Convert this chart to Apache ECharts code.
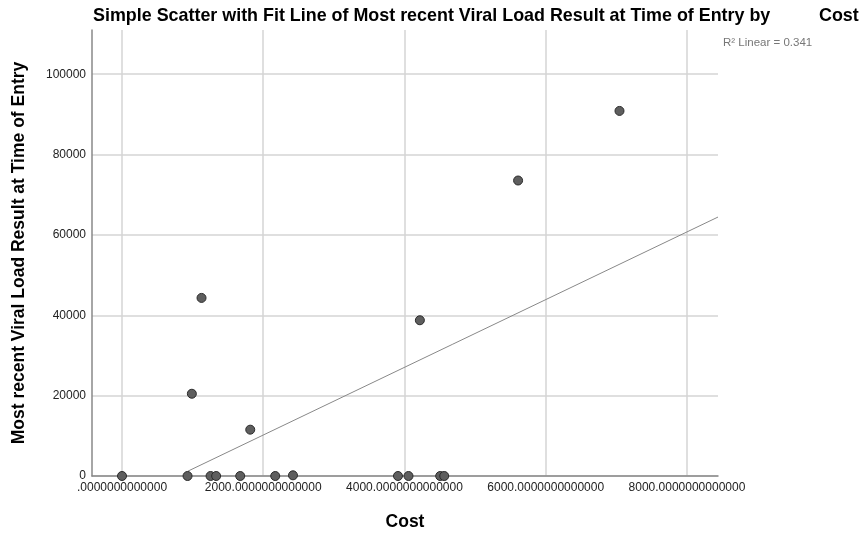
<!DOCTYPE html>
<html>
<head>
<meta charset="utf-8">
<script src="https://cdn.jsdelivr.net/npm/echarts@6/dist/echarts.min.js"></script>
<style>
  html, body { margin: 0; padding: 0; background: #fff; }
  #scatter { width: 868px; height: 536px; }
</style>
</head>
<body>
<div id="scatter"></div>
<script>
var cost = [0, 928, 989, 1126, 1254, 1333, 1674, 1816, 2170, 2421, 3908, 4057, 4218, 4506, 4563, 5609, 7045];
var viralLoad = [0, 0, 20470, 44320, 0, 0, 0, 11530, 0, 170, 0, 0, 38760, 0, 0, 73540, 90860];
var fitX = [928, 8440];
var fitY = [1160, 64450];
var xTicks = [0, 2000, 4000, 6000, 8000];
var yTicks = [0, 20000, 40000, 60000, 80000, 100000];

var points = cost.map(function (c, i) { return [c, viralLoad[i]]; });
var fitLine = fitX.map(function (x, i) { return [x, fitY[i]]; });

var boldFont = 'bold 17.9px Liberation Sans, Arial';

var chartDom = document.getElementById('scatter');
var myChart = echarts.init(chartDom);
var option;
option = {
  animation: false,
  graphic: [
    {
      type: 'text',
      left: 93,
      top: 7,
      style: {
        text: 'Simple Scatter with Fit Line of Most recent Viral Load Result at Time of Entry by',
        fill: '#000',
        font: boldFont
      }
    },
    {
      type: 'text',
      left: 819,
      top: 7,
      style: { text: 'Cost', fill: '#000', font: boldFont }
    },
    {
      type: 'text',
      left: 723,
      top: 37,
      style: {
        text: 'R² Linear = 0.341',
        fill: '#777',
        font: '11.5px Liberation Sans, Arial'
      }
    }
  ],
  grid: {
    left: 92,
    right: 150,
    top: 30,
    bottom: 59
  },
  xAxis: {
    type: 'value',
    min: -425,
    max: 8440,
    name: 'Cost',
    nameLocation: 'middle',
    nameGap: 37,
    nameTextStyle: {
      fontFamily: 'Liberation Sans, Arial',
      fontSize: 17.5,
      fontWeight: 'bold',
      color: '#000'
    },
    axisLine: { onZero: false, lineStyle: { color: '#888', width: 1.5 } },
    axisTick: { show: false, customValues: xTicks },
    axisLabel: {
      customValues: xTicks,
      margin: 6,
      fontFamily: 'Liberation Sans, Arial',
      fontSize: 12,
      color: '#222',
      formatter: function (v) {
        return v === 0 ? '.0000000000000' : v + '.0000000000000';
      }
    },
    splitLine: { show: true, lineStyle: { color: '#d4d4d4', width: 1.5 } }
  },
  yAxis: {
    type: 'value',
    min: 0,
    max: 111000,
    name: 'Most recent Viral Load Result at Time of Entry',
    nameLocation: 'middle',
    nameGap: 64,
    nameTextStyle: {
      fontFamily: 'Liberation Sans, Arial',
      fontSize: 17.5,
      fontWeight: 'bold',
      color: '#000'
    },
    axisLine: { show: true, onZero: false, lineStyle: { color: '#888', width: 1.5 } },
    axisTick: { show: false, customValues: yTicks },
    axisLabel: {
      customValues: yTicks,
      margin: 6,
      fontFamily: 'Liberation Sans, Arial',
      fontSize: 12,
      color: '#222',
      formatter: function (v) { return String(v); }
    },
    splitLine: { show: true, lineStyle: { color: '#d4d4d4', width: 1.5 } }
  },
  series: [
    {
      name: 'Fit',
      type: 'line',
      data: fitLine,
      symbol: 'none',
      lineStyle: { color: '#888', width: 1 },
      z: 2
    },
    {
      name: 'Viral Load',
      type: 'scatter',
      data: points,
      symbolSize: 9,
      itemStyle: { color: '#5e5e5e', borderColor: '#2a2a2a', borderWidth: 1, opacity: 1 },
      z: 3
    }
  ]
};
myChart.setOption(option);
</script>
</body>
</html>
